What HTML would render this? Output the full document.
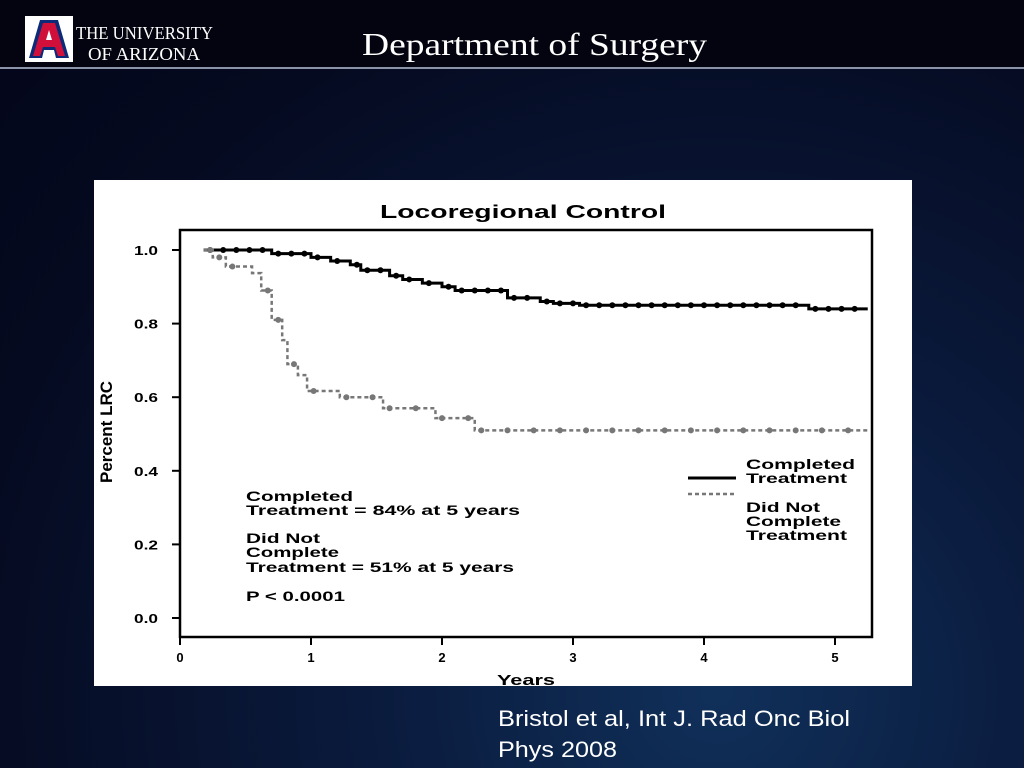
<!DOCTYPE html>
<html><head><meta charset="utf-8"><style>
body{margin:0;width:1024px;height:768px;overflow:hidden;background:radial-gradient(ellipse at 70% 90%,#10305a 0%,#0a1a3c 35%,#050a20 75%,#03061a 100%);font-family:"Liberation Sans",sans-serif;position:relative}
.hdr{position:absolute;left:0;top:0;width:1024px;height:68px;background:#03040f}
.rule{position:absolute;left:0;top:67px;width:1024px;height:2px;background:#8a93a8}
</style></head><body>
<div class="hdr"></div>
<div class="rule"></div>
<svg width="1024" height="768" style="position:absolute;left:0;top:0">
<g>
<rect x="25" y="16" width="48" height="46" fill="#fff"/>
<path d="M29 58 L40 20 L58 20 L69 58 L56 58 L54 50 L44 50 L42 58 Z" fill="#0c2a78"/>
<path d="M33 56 L43 23 L55 23 L65 56 L58 56 L55 47 L43 47 L40 56 Z" fill="#d0103a"/>
<path d="M46 40 L49 30 L52 40 Z" fill="#fff"/>
<text x="76" y="39" fill="#fff" font-family="Liberation Serif" font-size="18" textLength="137" lengthAdjust="spacingAndGlyphs">THE UNIVERSITY</text>
<text x="88" y="60" fill="#fff" font-family="Liberation Serif" font-size="18" textLength="112" lengthAdjust="spacingAndGlyphs">OF ARIZONA</text>
</g>
<text x="362" y="55" fill="#fff" font-family="Liberation Serif" font-size="32" textLength="345" lengthAdjust="spacingAndGlyphs">Department of Surgery</text>
<text x="498" y="726" fill="#fff" font-family="Liberation Sans" font-size="22" textLength="352" lengthAdjust="spacingAndGlyphs">Bristol et al, Int J. Rad Onc Biol</text>
<text x="498" y="757" fill="#fff" font-family="Liberation Sans" font-size="22" textLength="119" lengthAdjust="spacingAndGlyphs">Phys 2008</text>
<rect x="94" y="180" width="818" height="506" fill="#fff"/>
<g id="chart" font-family="Liberation Sans" font-weight="bold"></g>
</svg>
<script>
const yTicks=[0.0,0.2,0.4,0.6,0.8,1.0];
const xTicks=[0,1,2,3,4,5];
const compT=[0.18,0.7,1.0,1.15,1.3,1.38,1.6,1.7,1.85,2.0,2.1,2.5,2.75,2.85,3.05,4.8];
const compS=[1.0,0.99,0.98,0.97,0.96,0.945,0.93,0.92,0.91,0.90,0.89,0.87,0.86,0.855,0.85,0.84];
const notT=[0.18,0.25,0.35,0.55,0.62,0.7,0.78,0.82,0.9,0.97,1.22,1.55,1.95,2.25];
const notS=[1.0,0.98,0.955,0.937,0.89,0.81,0.755,0.69,0.66,0.617,0.60,0.57,0.543,0.51];
const endT=5.25;
const X=v=>180+v*131, Y=v=>618-v*368;
const g=document.getElementById('chart');const ns='http://www.w3.org/2000/svg';
function el(t,a,txt){const e=document.createElementNS(ns,t);for(const k in a)e.setAttribute(k,a[k]);if(txt!==undefined)e.textContent=txt;g.appendChild(e);return e;}
let e=el('rect',{x:180,y:230,width:692,height:407,fill:'none',stroke:'#000','stroke-width':2.5});


e=el('text',{x:380,y:218,'font-size':18,textLength:286,lengthAdjust:'spacingAndGlyphs'},'Locoregional Control');


yTicks.forEach(v=>{let t=el('line',{x1:172,x2:180,y1:Y(v),y2:Y(v),stroke:'#000','stroke-width':2});


t=el('text',{x:134,y:Y(v)+5,'font-size':13,textLength:24,lengthAdjust:'spacingAndGlyphs'},v.toFixed(1));

});
xTicks.forEach(v=>{let t=el('line',{x1:X(v),x2:X(v),y1:637,y2:645,stroke:'#000','stroke-width':2});


t=el('text',{x:X(v),y:662,'text-anchor':'middle','font-size':13},v);

});
e=el('text',{x:497,y:685,'font-size':15,textLength:58,lengthAdjust:'spacingAndGlyphs'},'Years');


e=el('text',{x:0,y:0,'text-anchor':'middle','font-size':17,transform:'translate(112,432) rotate(-90)'},'Percent LRC');


function path(T,S){let d='M'+X(T[0])+' '+Y(S[0]);for(let i=1;i<T.length;i++){d+='H'+X(T[i])+'V'+Y(S[i]);}return d+'H'+X(endT);}
e=el('path',{d:path(compT,compS),fill:'none',stroke:'#000','stroke-width':3});


e=el('path',{d:path(notT,notS),fill:'none',stroke:'#777','stroke-width':2.5,'stroke-dasharray':'4 3'});


function censor(T,S,col,step,name){for(let i=0;i<T.length;i++){const t1=i+1<T.length?T[i+1]:endT;for(let t=T[i]+0.05;t<t1-0.02;t+=step){let c=el('circle',{cx:X(t),cy:Y(S[i]),r:3,fill:col});

}}}
censor(compT,compS,'#000',0.1,'censor-mark-completed');
censor(notT,notS,'#777',0.2,'censor-mark-not-completed');
e=el('line',{x1:688,x2:736,y1:478,y2:478,stroke:'#000','stroke-width':3});


e=el('line',{x1:688,x2:736,y1:494,y2:494,stroke:'#777','stroke-width':2.5,'stroke-dasharray':'4 3'});


[['Completed',469,109],['Treatment',483,101],['Did Not',512,74],['Complete',526,95],['Treatment',540,101]].forEach(a=>{let t=el('text',{x:746,y:a[1],'font-size':14,textLength:a[2],lengthAdjust:'spacingAndGlyphs'},a[0]);

});
[['Completed',501,107],['Treatment = 84%  at 5 years',515,274],['Did Not',543,74],['Complete',557,93],['Treatment = 51% at 5 years',572,268],['P < 0.0001',601,99]].forEach(a=>{let t=el('text',{x:246,y:a[1],'font-size':14,textLength:a[2],lengthAdjust:'spacingAndGlyphs'},a[0]);

});
</script>
</body></html>
